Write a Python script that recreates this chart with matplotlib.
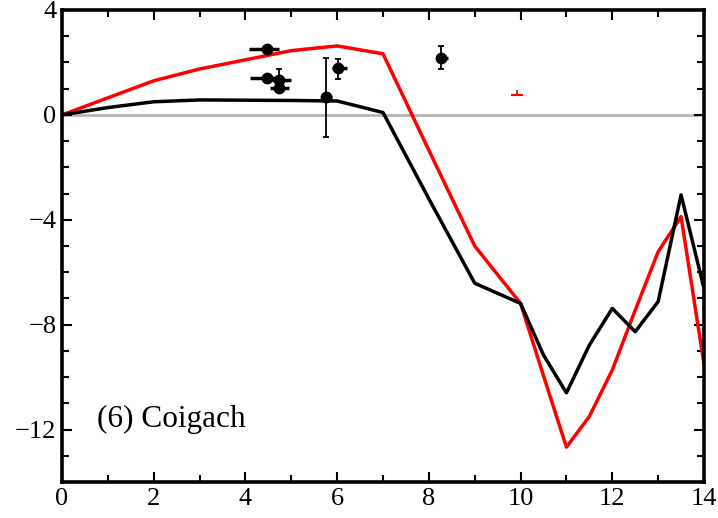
import numpy as np
import matplotlib
matplotlib.use('Agg')
import matplotlib.pyplot as plt

plt.rcParams['font.family'] = ['Liberation Serif', 'DejaVu Serif']
plt.rcParams['mathtext.fontset'] = 'stix'

# model curves
model_x = [0, 1, 2, 3, 4, 5, 6, 7, 8, 9, 10, 10.5, 11, 11.5, 12, 12.5, 13, 13.5, 14]
red_y = [0, 0.65, 1.3, 1.75, 2.1, 2.45, 2.63, 2.33, -1.35, -5.0, -7.19,
         -9.95, -12.67, -11.5, -9.73, -7.45, -5.22, -3.88, -9.5]
black_y = [0, 0.28, 0.5, 0.57, 0.56, 0.55, 0.53, 0.09, -3.2, -6.42, -7.19,
           -9.16, -10.6, -8.78, -7.38, -8.27, -7.12, -3.05, -6.62]

# observations (black)
obs_x = [4.48, 4.48, 4.73, 4.73, 5.76, 6.01, 8.26]
obs_y = [2.52, 1.40, 1.34, 1.02, 0.70, 1.78, 2.16]
obs_xlo = [0.40, 0.38, 0.16, 0.20, 0.12, 0.13, 0.11]
obs_xhi = [0.25, 0.27, 0.26, 0.22, 0.12, 0.20, 0.16]
obs_ylo = [0, 0, 0.45, 0, 1.53, 0.41, 0.42]
obs_yhi = [0, 0, 0.41, 0, 1.47, 0.35, 0.45]

# red observation
red_obs_x = [9.93]
red_obs_y = [0.76]
red_obs_xerr = [0.13]
red_obs_yhi = [0.2]

fig = plt.figure(figsize=(7.18, 5.18), dpi=100)
ax = fig.add_axes([0.0864, 0.0695, 0.8941, 0.9112])

ax.axhline(0, color='#b4b4b4', lw=2, zorder=1)
ax.plot(model_x, red_y, color='#ff0000', lw=2.5, zorder=2)
ax.plot(model_x, black_y, color='black', lw=2.5, zorder=3)

ax.errorbar(obs_x, obs_y, xerr=[obs_xlo, obs_xhi], fmt='none', ecolor='black',
            elinewidth=2.5, capsize=0, zorder=4)
ax.errorbar(obs_x, obs_y, yerr=[obs_ylo, obs_yhi], fmt='none', ecolor='black',
            elinewidth=1.3, capsize=2.5, capthick=1.3, zorder=4)
ax.plot(obs_x, obs_y, 'o', color='black', ms=7.5, zorder=5)

ax.errorbar(red_obs_x, red_obs_y, xerr=red_obs_xerr, fmt='none', ecolor='#ff0000',
            elinewidth=1.5, capsize=0, zorder=4)
ax.errorbar(red_obs_x, red_obs_y, yerr=[[0], red_obs_yhi], fmt='none', ecolor='#ff0000',
            elinewidth=1.2, capsize=0, zorder=4)

ax.set_xlim(0, 14)
ax.set_ylim(-14, 4)
ax.set_xticks([0, 2, 4, 6, 8, 10, 12, 14])
ax.set_xticks(np.arange(0, 15, 1), minor=True)
ax.set_yticks([-12, -8, -4, 0, 4])
ax.set_yticks(np.arange(-14, 5, 1), minor=True)
ax.set_yticklabels(['\u221212', '\u22128', '\u22124', '0', '4'])

ax.tick_params(which='both', direction='in', top=True, right=True, labelsize=19, width=1.5)
ax.tick_params(which='major', length=7)
ax.tick_params(which='minor', length=5)
ax.tick_params(axis='x', pad=4)
ax.tick_params(axis='y', pad=4)
for s in ax.spines.values():
    s.set_linewidth(2.6)

ax.text(0.76, -11.9, '(6) Coigach', fontsize=22.5, ha='left', va='baseline')

fig.savefig('out.png', dpi=100)
